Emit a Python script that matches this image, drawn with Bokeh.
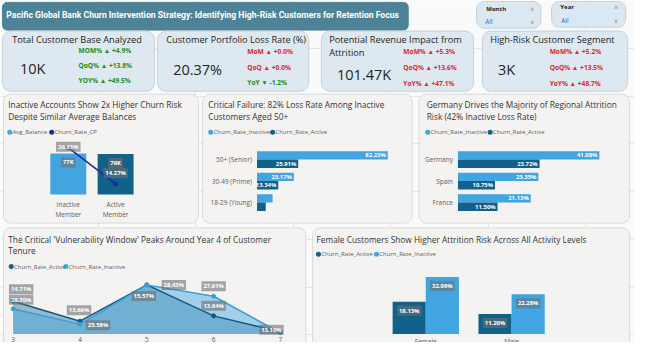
import numpy as np
from bokeh.plotting import figure
from bokeh.models import ColumnDataSource, Range1d
from bokeh.transform import dodge
from bokeh.core.properties import value
from bokeh.embed import file_html
from bokeh.resources import INLINE

# ---------------- data ----------------
report_title = "Pacific Global Bank Churn Intervention Strategy: Identifying High-Risk Customers for Retention Focus"
slicer_names = ["Month", "Year"]
slicer_values = ["All", "All"]

kpi_titles = [["Total Customer Base Analyzed"], ["Customer Portfolio Loss Rate (%)"],
              ["Potential Revenue Impact from", "Attrition"], ["High-Risk Customer Segment"]]
kpi_values = ["10K", "20.37%", "101.47K", "3K"]
kpi_periods = [["MOM%", "QoQ%", "YOY%"], ["MoM", "QoQ", "YoY"],
               ["MoM%", "QoQ%", "YoY%"], ["MoM%", "QoQ%", "YoY%"]]
kpi_changes = [[4.9, 13.8, 49.5], [0.0, 0.0, -1.2], [5.3, 13.6, 47.1], [5.2, 13.5, 48.7]]
kpi_rise_is_good = [True, False, False, False]

member_cats = ["Inactive Member", "Active Member"]
member_tick_labels = ["Inactive\nMember", "Active\nMember"]
member_avg_balance = [77000, 76000]
member_churn_rate = [26.85, 14.27]

age_cats = ["50+ (Senior)", "30-49 (Prime)", "18-29 (Young)"]
age_churn_inactive = [82.23, 23.17, 9.8]
age_churn_active = [25.91, 13.34, 5.5]

geo_cats = ["Germany", "Spain", "France"]
geo_churn_inactive = [41.08, 23.35, 21.13]
geo_churn_active = [23.72, 10.75, 11.50]

tenure_years = [3, 4, 5, 6, 7]
tenure_churn_active = [14.71, 13.66, 15.57, 13.94, 13.10]
tenure_churn_inactive = [26.70, 25.58, 28.43, 27.61, 24.97]
tenure_inactive_labelled = [True, True, True, True, False]

gender_cats = ["Female", "Male"]
gender_churn_active = [18.13, 11.20]
gender_churn_inactive = [32.09, 22.28]

# ---------------- style ----------------
FONT = "Open Sans"
LIGHT = "#41A5E1"
DARK = "#12618A"
NAVY = "#1B2A9C"
PAGE_BG = "#FAFAFA"
PANEL_BG = "#F4F3F2"
PANEL_EDGE = "#DADADA"
CARD_BG = "#DDE8F0"
CARD_EDGE = "#C5D3DD"
TXT = "#252423"
SUB = "#605E5C"
GREEN = "#1E8C1E"
RED = "#E3262B"

# one canvas; coordinates of the main figure are those of the 650x358 design
p = figure(width=634, height=342, x_range=Range1d(0, 650), y_range=Range1d(358, 0),
           toolbar_location=None, output_backend="svg", min_border=0,
           x_axis_location=None, y_axis_location=None,
           background_fill_color=PAGE_BG, border_fill_color=PAGE_BG, outline_line_color=None)


def rrect(x0, y0, x1, y1, r):
    xs, ys = [], []
    for cx, cy, t0 in ((x1 - r, y0 + r, -90), (x1 - r, y1 - r, 0),
                       (x0 + r, y1 - r, 90), (x0 + r, y0 + r, 180)):
        for t in np.radians(np.linspace(t0, t0 + 90, 7)):
            xs.append(cx + r * np.cos(t))
            ys.append(cy + r * np.sin(t))
    return xs, ys


boxes = [  # x0, y0, x1, y1, radius, fill, edge
    (2, 2, 418, 31, 5, "#4E8296", "#4E8296"),
    (488, 1, 554, 29, 8, "#DCE8F1", "#C3D3DF"),
    (565, 1, 641, 28, 8, "#DCE8F1", "#C3D3DF"),
    (2, 32, 158, 95, 9, CARD_BG, CARD_EDGE),
    (161, 32, 316, 95, 9, CARD_BG, CARD_EDGE),
    (329, 32, 485, 95, 9, CARD_BG, CARD_EDGE),
    (494, 32, 643, 95, 9, CARD_BG, CARD_EDGE),
    (3, 98, 203, 233, 8, PANEL_BG, PANEL_EDGE),
    (207, 98, 422, 233, 8, PANEL_BG, PANEL_EDGE),
    (429, 98, 645, 233, 8, PANEL_BG, PANEL_EDGE),
    (3, 238, 313, 366, 8, PANEL_BG, PANEL_EDGE),
    (320, 238, 645, 366, 8, PANEL_BG, PANEL_EDGE),
]
bx, by = zip(*[rrect(*b[:5]) for b in boxes])
p.patches(xs=list(bx), ys=list(by), fill_color=[b[5] for b in boxes],
          line_color=[b[6] for b in boxes], line_width=1)


def txt(xs, ys, texts, size, color=TXT, style="normal", font=FONT, align="left", target=p, **kw):
    target.text(x=xs, y=ys, text=texts, text_font=value(font), text_font_size=size,
                text_font_style=style, text_color=color, text_baseline="middle",
                text_align=align, **kw)


# ---------------- header ----------------
txt([6], [15.5], [report_title], "8.6px", color="white", style="bold", font="Roboto")
slicer_pos = [((498, 9), (497, 22), (545, 8), (545, 22)), ((574, 7), (575, 21), (631, 6), (631, 21))]
for name, val, (pn, pv, c1, c2) in zip(slicer_names, slicer_values, slicer_pos):
    txt([pn[0]], [pn[1]], [name], "6px", style="bold")
    txt([pv[0]], [pv[1]], [val], "6.5px", color="#2B6CB0")
    txt([c1[0], c2[0]], [c1[1], c2[1]], ["\u2228", "\u2228"], "6px", color="#8A8A8A",
        font="DejaVu Sans", align="center")

# ---------------- KPI cards ----------------
card_title_xy = [(12, 41), (170, 41), (337, 41), (502, 41)]
card_value_xy = [(20, 71), (177, 72), (345, 77), (510, 72)]
card_change_x = [80, 253, 413, 563]
card_change_y = [[52, 68, 84], [53, 70, 86], [53, 70, 87], [53, 70, 87]]
for i in range(4):
    lines = kpi_titles[i]
    tx, ty = card_title_xy[i]
    txt([tx] * len(lines), [ty + 13 * k for k in range(len(lines))], lines, "9.2px")
    txt([card_value_xy[i][0]], [card_value_xy[i][1]], [kpi_values[i]], "14.5px")
    texts, colors = [], []
    for lab, ch in zip(kpi_periods[i], kpi_changes[i]):
        arrow = "\u25B2" if ch >= 0 else "\u25BC"
        texts.append(f"{lab} {arrow} {'+' if ch >= 0 else '-'}{abs(ch):.1f}%")
        colors.append(GREEN if (ch >= 0) == kpi_rise_is_good[i] else RED)
    p.text(x=[card_change_x[i]] * 3, y=card_change_y[i], text=texts, text_color=colors,
           text_font=value(FONT), text_font_size="6.6px", text_font_style="bold",
           text_baseline="middle")

# ---------------- panel titles and legends ----------------
panel_titles = [
    ((8, 109), ["Inactive Accounts Show 2x Higher Churn Risk", "Despite Similar Average Balances"]),
    ((213, 109), ["Critical Failure: 82% Loss Rate Among Inactive", "Customers Aged 50+"]),
    ((437, 109), ["Germany Drives the Majority of Regional Attrition", "Risk (42% Inactive Loss Rate)"]),
    ((8, 250), ["The Critical 'Vulnerability Window' Peaks Around Year 4 of Customer", "Tenure"]),
    ((324, 250), ["Female Customers Show Higher Attrition Risk Across All Activity Levels"]),
]
for (tx, ty), lines in panel_titles:
    txt([tx] * len(lines), [ty + 12 * k for k in range(len(lines))], lines, "8.3px",
        color="#333333")

legends = [  # y, [(circle x, label, colour)]
    (138, [(9.5, "Avg_Balance", LIGHT), (52.5, "Churn_Rate_CP", NAVY)]),
    (138, [(215.5, "Churn_Rate_Inactive", LIGHT), (279, "Churn_Rate_Active", DARK)]),
    (138, [(438, "Churn_Rate_Inactive", LIGHT), (502, "Churn_Rate_Active", DARK)]),
    (278.5, [(11, "Churn_Rate_Active", DARK), (67, "Churn_Rate_Inactive", LIGHT)]),
    (265.5, [(326, "Churn_Rate_Active", DARK), (385.5, "Churn_Rate_Inactive", LIGHT)]),
]
for ly, entries in legends:
    p.scatter(x=[e[0] for e in entries], y=[ly] * len(entries), marker="circle", size=5,
              fill_color=[e[2] for e in entries], line_color=None)
    txt([e[0] + 2.8 for e in entries], [ly] * len(entries), [e[1] for e in entries], "6px",
        color=SUB)


def sub(xs, xt, ys, yt):
    return p.subplot(x_source=Range1d(*xs), y_source=Range1d(*ys),
                     x_target=Range1d(*xt), y_target=Range1d(*yt))


BOX = dict(text_font=value(FONT), text_font_size="5.9px", text_font_style="bold",
           text_color="white", background_fill_color="#707070", background_fill_alpha=0.6,
           padding=(2, 1))
AXIS = dict(text_font=value(FONT), text_font_size="6.5px", text_color=SUB)

# ---------------- panel 1: membership ----------------
s1 = sub((0, 1), (69.5, 118), (0, 100000), (203, 147.2))
s1r = sub((0, 1), (69.5, 118), (10, 30), (204.9, 144.5))
mem_idx = list(range(len(member_cats)))
src1 = ColumnDataSource(dict(
    x=mem_idx, zero=[0] * len(mem_idx), bal=member_avg_balance, rate=member_churn_rate,
    color=[LIGHT, DARK], tick=member_tick_labels,
    bal_lbl=[f"{v / 1000:.0f}K" for v in member_avg_balance],
    rate_lbl=[f"{v:.2f}%" for v in member_churn_rate], ro=[-1, -11]))
s1.vbar(x="x", top="bal", width=0.76, fill_color="color", line_color=None, source=src1)
s1r.line(x="x", y="rate", line_color=NAVY, line_width=1.6, source=src1)
s1r.scatter(x="x", y="rate", size=4, color=NAVY, source=src1)
s1.text(x="x", y="bal", text="bal_lbl", source=src1, y_offset=4, text_align="center",
        text_baseline="top", **BOX)
s1r.text(x="x", y="rate", text="rate_lbl", source=src1, y_offset="ro", text_align="center",
         text_baseline="middle", **BOX)
s1.text(x="x", y="zero", text="tick", source=src1, y_offset=6, text_align="center",
        text_baseline="top", text_line_height=1.1, **AXIS)


# ---------------- panels 2 & 3: horizontal grouped bars ----------------
def hbars(cats, inactive, active, xs, xt):
    s = sub(xs, xt, (0, 2), (166.5, 211.5))
    n = len(cats)
    ppu = (xt[1] - xt[0]) / (xs[1] - xs[0])
    fmt = lambda v: f"{v:.2f}%" if v * ppu > 20 else ""
    src = ColumnDataSource(dict(y=list(range(n)), cat=cats, zero=[0] * n, ina=inactive,
                                act=active, ina_lbl=[fmt(v) for v in inactive],
                                act_lbl=[fmt(v) for v in active]))
    s.hbar(y=dodge("y", -0.195), right="ina", height=0.38, fill_color=LIGHT, line_color=None,
           source=src)
    s.hbar(y=dodge("y", 0.195), right="act", height=0.39, fill_color=DARK, line_color=None,
           source=src)
    for col, lbl, off in (("ina", "ina_lbl", -0.195), ("act", "act_lbl", 0.195)):
        s.text(x=col, y=dodge("y", off), text=lbl, source=src, x_offset=-2,
               text_font=value(FONT), text_font_size="5.9px", text_font_style="bold",
               text_color="white", text_align="right", text_baseline="middle")
    s.text(x="zero", y="y", text="cat", source=src, x_offset=-5, text_align="right",
           text_baseline="middle", **AXIS)


hbars(age_cats, age_churn_inactive, age_churn_active, (0, 100), (263, 426))
hbars(geo_cats, geo_churn_inactive, geo_churn_active, (0, 50), (469, 645.5))

# ---------------- panel 4: tenure ----------------
act_rng = (12.99, 16.2)
ina_rng = (24.89, 29.3)
s4a = sub((3, 7), (13, 287), act_rng, (349, 285.2))
s4i = sub((3, 7), (13, 287), ina_rng, (349, 285.1))
nt = len(tenure_years)
src4 = ColumnDataSource(dict(x=tenure_years, act=tenure_churn_active, ina=tenure_churn_inactive,
                             abase=[act_rng[0]] * nt, ibase=[ina_rng[0]] * nt,
                             tick=[str(v) for v in tenure_years]))
s4a.varea(x="x", y1="abase", y2="act", fill_color=DARK, fill_alpha=0.4, source=src4)
s4i.varea(x="x", y1="ibase", y2="ina", fill_color=LIGHT, fill_alpha=0.45, source=src4)
s4a.line(x="x", y="act", line_color="#0E5A80", line_width=1.5, source=src4)
s4a.scatter(x="x", y="act", size=4, color="#0E5A80", source=src4)
s4i.line(x="x", y="ina", line_color="#3A9FDB", line_width=1.5, source=src4)
s4i.scatter(x="x", y="ina", size=4, color="#3A9FDB", source=src4)
act_off = [(8, -12), (-1, -11), (-3, 11), (0, -10), (-9, -2)]
ina_off = [(8, -9), (18, 1), (27, 0), (0, -10), (0, 0)]
keep = [i for i in range(nt) if tenure_inactive_labelled[i]]
li = ColumnDataSource(dict(x=[tenure_years[i] for i in keep],
                           y=[tenure_churn_inactive[i] for i in keep],
                           t=[f"{tenure_churn_inactive[i]:.2f}%" for i in keep],
                           xo=[ina_off[i][0] for i in keep], yo=[ina_off[i][1] for i in keep]))
la = ColumnDataSource(dict(x=tenure_years, y=tenure_churn_active,
                           t=[f"{v:.2f}%" for v in tenure_churn_active],
                           xo=[o[0] for o in act_off], yo=[o[1] for o in act_off]))
s4i.text(x="x", y="y", text="t", source=li, x_offset="xo", y_offset="yo", text_align="center",
         text_baseline="middle", **BOX)
s4a.text(x="x", y="y", text="t", source=la, x_offset="xo", y_offset="yo", text_align="center",
         text_baseline="middle", **BOX)
s4a.text(x="x", y="abase", text="tick", source=src4, y_offset=3, text_align="center",
         text_baseline="top", **AXIS)

# ---------------- panel 5: gender ----------------
s5 = sub((0, 1), (436, 524), (0, 35), (349, 283.9))
g_idx = list(range(len(gender_cats)))
src5 = ColumnDataSource(dict(x=g_idx, zero=[0] * len(g_idx), cat=gender_cats,
                             act=gender_churn_active, ina=gender_churn_inactive,
                             act_lbl=[f"{v:.2f}%" for v in gender_churn_active],
                             ina_lbl=[f"{v:.2f}%" for v in gender_churn_inactive]))
s5.vbar(x=dodge("x", -0.193), top="act", width=0.386, fill_color=DARK, line_color=None, source=src5)
s5.vbar(x=dodge("x", 0.193), top="ina", width=0.386, fill_color=LIGHT, line_color=None, source=src5)
s5.text(x=dodge("x", -0.193), y="act", text="act_lbl", source=src5, y_offset=4,
        text_align="center", text_baseline="top", **BOX)
s5.text(x=dodge("x", 0.193), y="ina", text="ina_lbl", source=src5, y_offset=4,
        text_align="center", text_baseline="top", **BOX)
s5.text(x="x", y="zero", text="cat", source=src5, y_offset=3, text_align="center",
        text_baseline="top", **AXIS)

open("out.html", "w").write(file_html(p, INLINE, "Churn dashboard"))
